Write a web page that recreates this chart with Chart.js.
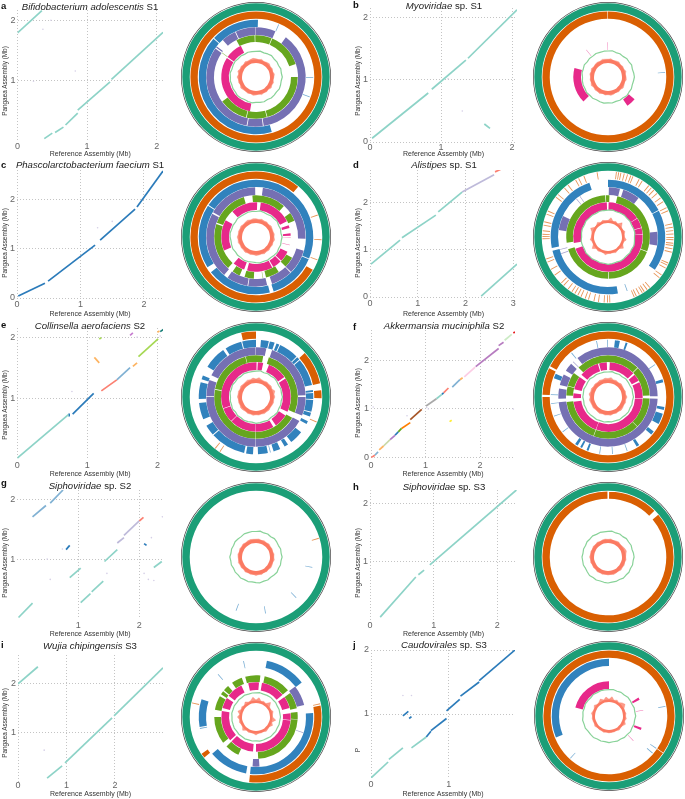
<!DOCTYPE html>
<html>
<head>
<meta charset="utf-8">
<title>Pangaea assemblies</title>
<script src="https://cdn.jsdelivr.net/npm/chart.js@4/dist/chart.umd.min.js"></script>
<style>
  html, body { margin: 0; padding: 0; background: #fff; }
  #page { position: relative; width: 685px; height: 799px; overflow: hidden; font-family: "Liberation Sans", Arial, sans-serif; }
  canvas { position: absolute; }
  .title { position: absolute; width: 170px; text-align: center; font-size: 9.6px; line-height: 12px; color: #222; white-space: nowrap; }
  .letter { position: absolute; font-size: 9.5px; line-height: 10px; font-weight: bold; color: #111; }
  .ytitle { position: absolute; width: 100px; text-align: center; font-size: 6.4px; line-height: 8px; color: #333; white-space: nowrap; transform: rotate(-90deg); }
</style>
</head>
<body>
<div id="page"></div>
<script>
// Contigs as [refStart, pangaeaStart, refEnd, pangaeaEnd] in Mb
const aMint = [[0, 1.79, 0.35, 2.16], [0.385, 0.04, 0.5, 0.13], [0.54, 0.14, 0.66, 0.23], [0.69, 0.265, 0.865, 0.46], [0.865, 0.51, 1.33, 0.98], [1.35, 1.02, 2.09, 1.8]];
const aDots = [[0.48, 2.0], [0.365, 1.85], [0.83, 1.16], [0.23, 0.99]];

const bMint = [[0.03, 0.06, 0.82, 0.79], [0.87, 0.85, 1.35, 1.32], [1.38, 1.35, 2.07, 2.13], [1.61, 0.29, 1.69, 0.22]];
const bDots = [[1.1, 1.02], [1.3, 0.5]];

const cBlue = [[0.02, 0.04, 0.44, 0.3], [0.49, 0.34, 1.23, 1.07], [1.31, 1.17, 1.86, 1.8], [1.89, 1.84, 2.3, 2.57]];
const cDots = [[1.27, 1.42], [1.5, 1.55]];

const dMint = [[0.02, 0.7, 0.63, 1.21], [0.67, 1.26, 1.38, 1.74], [1.43, 1.81, 1.93, 2.23], [2.33, 0.02, 3.08, 0.7]];
const dPurple = [[1.93, 2.23, 2.6, 2.6]];
const dSalmon = [[2.62, 2.66, 2.79, 2.74]];

const eMint = [[0, 0.02, 0.73, 0.73]];
const eBlue = [[0.74, 0.75, 0.74, 0.7], [0.79, 0.74, 1.09, 1.08]];
const eSalmon = [[1.2, 1.12, 1.42, 1.3]];
const eLightBlue = [[1.42, 1.3, 1.61, 1.5]];
const eOrange = [[1.65, 1.52, 1.71, 1.58], [1.1, 1.67, 1.17, 1.58], [2.0, 2.08, 2.03, 2.1]];
const eLime = [[1.73, 1.68, 2.01, 1.97], [1.17, 1.97, 1.2, 1.99]];
const eMagenta = [[1.61, 2.03, 1.65, 2.07]];
const eTeal = [[2.04, 2.09, 2.09, 2.13]];
const eDots = [[0.78, 1.11], [1.71, 2.0], [2.04, 2.02]];

const fContigs = [[0, 0, 0.07, 0.05], [0.07, 0.05, 0.13, 0.12], [0.15, 0.16, 0.23, 0.24], [0.23, 0.24, 0.35, 0.37], [0.35, 0.37, 0.44, 0.46], [0.44, 0.46, 0.5, 0.53], [0.5, 0.53, 0.56, 0.6], [0.56, 0.6, 0.72, 0.72], [0.72, 0.78, 0.93, 0.99], [1.01, 1.06, 1.2, 1.21], [1.2, 1.21, 1.3, 1.3], [1.3, 1.3, 1.33, 1.33], [1.33, 1.33, 1.42, 1.43], [1.49, 1.45, 1.63, 1.6], [1.63, 1.6, 1.68, 1.64], [1.71, 1.66, 1.91, 1.86], [1.92, 1.87, 2.34, 2.24], [2.34, 2.3, 2.43, 2.37], [2.45, 2.41, 2.58, 2.53], [2.61, 2.56, 2.64, 2.58], [1.44, 0.74, 1.48, 0.77]];
const fContigColors = ['#fb8072', '#80b1d3', '#fdb462', '#c9d9a8', '#b07cc6', '#2b7bba', '#66a61e', '#ff7f00', '#a65628', '#a9a9a9', '#8dd3c7', '#2b7bba', '#fb8072', '#80b1d3', '#fdb462', '#fccde5', '#b77cc0', '#b77cc0', '#ccebc5', '#e41a1c', '#ffed33'];
const fDots = [[2.61, 1.0], [1.02, 1.03], [0.04, 1.04], [0.66, 0.86], [1.05, 1.0]];

const gMint = [[0.02, 0.02, 0.25, 0.26], [0.86, 0.69, 1.04, 0.85], [1.04, 0.27, 1.2, 0.42], [1.22, 0.45, 1.41, 0.63], [1.43, 0.96, 1.64, 1.16], [2.24, 0.86, 2.37, 0.96]];
const gPurple = [[1.64, 1.27, 1.75, 1.36], [1.75, 1.4, 2.0, 1.64]];
const gSalmon = [[2.0, 1.64, 2.07, 1.7]];
const gBlue = [[0.8, 1.16, 0.86, 1.23], [2.08, 1.26, 2.12, 1.23]];
const gLightBlue = [[0.25, 1.71, 0.47, 1.9], [0.54, 1.94, 0.75, 2.16]];
const gDots = [[2.08, 0.76], [2.15, 0.66], [2.24, 0.64], [0.54, 0.66], [1.47, 0.76], [2.38, 1.71], [2.2, 1.36], [0.74, 1.17], [0.49, 1.0]];

const hMint = [[0.16, 0.05, 0.72, 0.74], [0.76, 0.78, 0.85, 0.86], [0.94, 0.95, 2.3, 2.24]];

const iMint = [[0.6, 0.08, 0.91, 0.33], [0.97, 0.39, 1.94, 1.31], [1.98, 1.35, 2.99, 2.33], [0, 2.0, 0.41, 2.35]];
const iDots = [[0.54, 0.65]];

const jMint = [[0, 0, 0.22, 0.25], [0.23, 0.29, 0.41, 0.47], [0.52, 0.47, 0.71, 0.64]];
const jBlue = [[0.71, 0.64, 0.77, 0.73], [0.77, 0.74, 0.97, 0.93], [0.97, 1.05, 1.14, 1.23], [1.15, 1.28, 1.39, 1.5], [1.39, 1.52, 1.85, 2.0], [0.41, 0.97, 0.48, 1.04], [0.49, 0.93, 0.52, 0.96]];
const jDots = [[0.41, 1.29], [0.52, 1.29]];

// Blast rings: [startDeg, endDeg] clockwise from the top, a bare number is a thin hit
const aOrange = [[0, 360]];
const aBlue = [[164, 312], [313, 362], 23, 90, 110];
const aPurple = [[37, 171], [172, 190], [191, 305], [306.5, 308], [318, 335], [336, 359.5], [360, 383]];
const aLime = [[332, 358], [359, 382], [383, 432], [450, 524], [525, 553], [554, 594], 305];
const aPink = [[190, 303], [305, 334]];

const bOrange = [[0, 359.5]];
const bPink = [[225, 285], [130, 146], 359, 321];
const bBlue = [85];

const cOrange = [[120, 400], 70, 92, 110];
const cBlue2 = [[0, 112], [113, 162], [166, 232], [238, 303], [304, 360]];
const cPurple = [[8, 92], [106, 135], [136, 161], [167, 189], [190, 215], [220, 298], [300, 359]];
const cLime = [[355, 402], [55, 67], [120, 135], [147, 166], [183, 196], [203, 214], [222, 288], [290, 343], 170];
const cPink = [[317, 362], [8, 63], [70, 75], [84, 88], 91, 103, [115, 133], [135, 150], [152, 195], [200, 220], [247, 299]];

const dOrangeTicks = [350, 7, 9, 11, 14, 17, 20, 22, 28, 31, 38, 41, 44, 48, 53, 57, 63, 66, 78, 81, 84, 87, 90, 92, 95, 97, 100, 103, 113, 115, 118, 125, 128, 140, 143, 146, 148, 151, 154, 156, 178, 180, 183, 188, 192, 197, 200, 204, 207, 210, 213, 217, 222, 225, 234, 240, 247, 250, 268, 270, 272, 275, 280, 283, 290, 293, 307, 310, 318, 322, 330, 333, 338];
const dBlue = [[0, 62], [62.6, 125], [170, 256], [259, 341], 160];
const dPurple2 = [[1, 14], [18, 38], [84, 100], [278, 295], 320, 325, 250, 255];
const dLime = [[13, 110], [111, 179], [180, 253], [262, 356], [357, 362]];
const dPink = [[1, 57], [57.6, 74], [75, 85], [86, 250], [260, 358]];

const eOrange2 = [[347, 360], [48, 78], [84, 91], 112, 213, 218];
const eBlue2 = [[5, 13], [14, 19], [21, 24], [25, 45], [46, 49], [50, 78], [83, 85], [86, 92], [93, 105], [106, 110], [115, 118], [128, 142], [146, 150], [155, 162], 165, [168, 178], [183, 190], [192, 228], [229, 240], [247, 264], [268, 285], [288, 292], [302, 325], [328, 345], [346, 360]];
const ePurple = [[0, 12], [19, 88], [90, 112], [119, 180], [180.5, 270], [271, 290], [296, 359.5]];
const eLime2 = [[0, 10], [18, 112], [120, 180], [180.6, 280], [281, 345], [345.6, 360]];
const ePink = [[0, 1], [3, 12], [22, 55], [58, 115], [122, 145], [150, 180], [180.6, 225], [226, 250], [251, 360]];

const fOrange = [[0, 270], [272, 296], [298, 360]];
const fBlue = [348, 359, [7, 12], [18, 20], 55, [72, 75], [100, 103], [107, 118], [127, 131], [147, 150], 160, 175, 188, [200, 202], [207, 209], [212, 215], 232, 250, 263, 272, [289, 294], 320];
const fPurple = [[322, 360], [0, 89], [92, 264], [268, 280], [284, 297], [302, 312], 315];
const fLime = [[0, 45], [46, 88], [92, 135], [135.6, 200], [200.6, 263], [272, 285], [285.6, 305], [315, 360]];
const fPink = [[345, 358], [3, 47], [50, 62], [65, 92], [93, 200], [200.6, 262], [268, 276], [283, 305], [310, 343]];

const gOrange = [73];
const gBlue2 = [100, 170, 200, 135];

const hOrange = [[1, 45], [50, 359.5]];

const iOrange = [[80, 186], [232, 236], 78, 282];
const iBlue = [[11, 53], [86, 186], [190, 230], [260, 288], 226, 318, 347, 258];
const iPurple = [[52, 76], [176, 184], 108];
const iLime = [[345, 366], [12, 50], [55, 78], [83, 93], [93.6, 177], [205, 225], [232, 270], [280, 300], [303, 308], [310, 318], [325, 340]];
const iPink = [[347, 365], [10, 50], [55, 75], [84, 95], [95.6, 180], [185, 225], [228, 280], [285, 303], [308, 335]];

const jOrange = [[0, 124], [124.6, 360]];
const jBlue2 = [[248, 360], 80, 124, 130, 222];
const jPink = [[284, 360], [58, 62], 80, [110, 114], 135];

// GC skew / coverage tracks, radius at evenly spaced angles starting from the top
const trackInner = [14, 13.9, 14, 14.1, 13.9, 14, 13.9, 14.1, 14, 13.9, 14, 14.1, 14, 13.9, 14, 13.9, 14.1, 14, 13.9, 14, 14.1, 13.9, 14, 14, 13.9, 14.1, 14, 13.9, 14, 14.1, 14, 13.9, 14, 13.9, 14.1, 14, 13.9, 14, 14.1, 14];
const coreHigh = [17.6, 17.5, 17.6, 17.5, 17.7, 17.6, 17.5, 17.6, 17.5, 17.6, 17.7, 17.5, 17.6, 17.5, 17.6, 17.5, 17.6, 17.7, 17.5, 17.6, 17.5, 17.6, 17.5, 17.7, 17.6, 17.5, 17.6, 17.5, 17.6, 17.7, 17.5, 17.6, 17.5, 17.6, 17.5, 17.7, 17.6, 17.5, 17.6, 17.5];
const coreLow = [16.5, 16.4, 16.5, 16.6, 16.4, 16.5, 16.4, 16.5, 16.6, 16.5, 16.4, 16.5, 16.4, 16.6, 16.5, 16.4, 16.5, 16.5, 16.4, 16.6, 16.5, 16.4, 16.5, 16.4, 16.5, 16.6, 16.4, 16.5, 16.4, 16.5, 16.6, 16.5, 16.4, 16.5, 16.4, 16.6, 16.5, 16.4, 16.5, 16.5];

const aGreenTrack = [25.6, 26.2, 25.4, 25.9, 26.4, 25.5, 25.8, 25.3, 26.1, 25.6, 26.3, 25.5, 25.8, 26.2, 25.4, 25.7, 25.9, 25.3, 26, 25.6, 25.4, 26.1, 25.7, 25.2, 25.9, 26.3, 25.5, 25.8, 25.4, 26, 25.6, 26.2, 25.3, 25.7, 26.1, 25.5, 25.9, 25.4, 26, 25.7];
const aRedTrack = [18.2, 17.6, 18.5, 17.4, 18.1, 18.8, 17.7, 18.3, 17.5, 18.6, 17.9, 17.3, 18.4, 17.8, 18.7, 17.4, 18.2, 17.7, 18.5, 17.2, 18, 18.6, 17.5, 18.3, 17.6, 17.9, 18.8, 17.4, 18.2, 17.7, 18.9, 17.5, 19.1, 17.8, 18.4, 17.5, 18.7, 17.9, 18.3, 18.9];
const bGreenTrack = [26, 26.6, 25.7, 26.1, 25.5, 26.3, 25.9, 26.5, 25.6, 26, 26.4, 25.8, 25.5, 26.2, 25.9, 26.5, 25.7, 26.1, 25.6, 26.3, 25.8, 26.4, 26, 25.5, 26.2, 25.8, 26.5, 25.7, 26.1, 25.9, 25.5, 26.3, 26, 26.6, 25.7, 26.2, 25.8, 26.4, 25.9, 26.1];
const bRedTrack = [17.8, 18.4, 17.4, 18, 18.6, 17.5, 18.2, 17.7, 18.8, 17.6, 18.1, 18.5, 17.3, 18, 18.7, 17.6, 18.3, 17.5, 18.1, 18.6, 17.7, 18.2, 17.4, 18.5, 17.9, 18.3, 17.5, 18.8, 17.7, 18.1, 17.4, 18.4, 17.8, 18.6, 17.5, 18, 18.3, 17.6, 18.5, 18];
const cGreenTrack = [25.5, 26.4, 25.7, 25.3, 26, 25.6, 26.3, 25.4, 25.8, 25.2, 26.1, 25.5, 25.9, 25.4, 26.2, 25.7, 25.3, 25.9, 25.5, 26.1, 25.6, 25.3, 25.8, 26.2, 25.5, 25.9, 25.4, 26, 25.6, 25.3, 25.9, 26.2, 25.5, 25.8, 25.4, 26.1, 25.7, 25.5, 26, 25.8];
const cRedTrack = [18.3, 17.8, 18.6, 18, 18.4, 17.7, 18.7, 18.1, 17.9, 18.5, 18, 18.8, 17.8, 18.3, 17.6, 18.5, 18, 18.7, 17.9, 18.2, 18.6, 17.8, 18.4, 18, 18.7, 17.9, 18.3, 17.7, 18.6, 18.1, 18.8, 17.9, 18.4, 18, 18.6, 17.8, 18.3, 18.7, 18, 18.5];
const dGreenTrack = [26.8, 27.4, 26.5, 26.9, 27.3, 26.6, 27, 26.4, 26.9, 27.2, 26.5, 26.8, 27.4, 26.6, 27, 26.4, 26.8, 27.1, 26.5, 26.9, 27.3, 26.6, 26.9, 26.4, 27.1, 26.7, 27.3, 26.5, 26.9, 27.2, 26.4, 26.8, 27, 26.5, 27.3, 26.7, 26.9, 26.5, 27.1, 26.8];
const dRedTrack = [16.5, 19.5, 16.4, 17.5, 16.3, 20, 16.6, 16.3, 17.8, 16.4, 16.5, 18.5, 16.3, 16.6, 19, 16.4, 16.3, 17.5, 16.5, 16.4, 16.6, 18, 16.3, 16.5, 17.2, 16.4, 19.5, 16.5, 16.3, 18, 16.6, 16.4, 17, 19.5, 16.5, 16.3, 18, 16.4, 17.5, 16.6];
const eGreenTrack = [25.8, 26.5, 25.5, 26.1, 25.6, 26.4, 25.9, 25.4, 26.2, 25.7, 26.5, 25.5, 26, 25.6, 26.3, 25.8, 25.4, 26.2, 25.6, 26, 26.4, 25.5, 25.9, 26.3, 25.6, 26.1, 25.4, 26.4, 25.7, 26, 25.5, 26.3, 25.8, 26.5, 25.6, 26.1, 25.5, 26.3, 25.9, 25.6];
const eRedTrack = [18, 19.6, 18.2, 17.8, 18.5, 18, 18.7, 17.7, 19.8, 18.2, 18.8, 17.9, 18.4, 18, 17.7, 18.5, 18.1, 18.6, 17.9, 18.3, 17.8, 18.6, 18, 18.4, 17.7, 18.3, 18.8, 17.9, 18.2, 17.7, 18.6, 18.1, 18.4, 17.8, 18.7, 18, 18.3, 18.9, 18.1, 19.2];
const fGreenTrack = [25, 25.7, 24.8, 25.2, 24.6, 25.4, 25, 24.7, 25.3, 24.9, 25.5, 24.7, 25.1, 24.6, 25.3, 25, 24.8, 25.4, 24.9, 25.1, 24.6, 25.3, 24.8, 25.2, 24.7, 25, 25.4, 24.8, 25.1, 24.6, 25.2, 24.9, 25.4, 24.7, 25.1, 25.6, 24.8, 25.3, 25, 25.2];
const fRedTrack = [18.5, 19.6, 18, 18.4, 17.7, 18.6, 18, 17.6, 18.3, 17.8, 19, 17.9, 18.4, 17.7, 18.2, 18.6, 17.8, 18.2, 17.6, 18.4, 17.9, 18.3, 17.7, 18.5, 18, 17.7, 18.4, 17.9, 18.2, 18.9, 17.8, 19.2, 18.1, 18.6, 17.9, 18.4, 18, 18.7, 18.2, 19];
const gGreenTrack = [25.5, 26.2, 25.3, 25.8, 25.1, 26, 25.6, 25.2, 25.9, 25.4, 26.1, 25.3, 25.7, 25.2, 26, 25.5, 25.1, 25.8, 25.4, 26.1, 25.6, 25.2, 25.8, 25.4, 26, 25.3, 25.7, 25.1, 25.9, 25.5, 26.2, 25.3, 25.7, 25.2, 25.9, 25.5, 25.2, 26, 25.6, 25.8];
const gRedTrack = [17.8, 18.2, 17.5, 18.1, 17.6, 18.4, 17.7, 18, 17.5, 18.3, 17.8, 18.5, 17.6, 18, 18.4, 17.6, 18.1, 17.5, 18.3, 17.8, 18.5, 17.6, 18.1, 17.7, 18.4, 17.5, 18.2, 17.8, 18.5, 17.6, 18, 18.3, 17.5, 18.2, 17.7, 18.4, 17.6, 18.1, 18.3, 17.9];
const hGreenTrack = [25.6, 26.1, 25.3, 25.8, 25.2, 26, 25.5, 25.9, 25.2, 25.7, 26.1, 25.4, 25.8, 25.2, 25.9, 25.5, 26.1, 25.3, 25.7, 25.4, 26, 25.6, 25.2, 25.8, 25.4, 26.1, 25.5, 25.2, 25.9, 25.6, 26, 25.3, 25.7, 25.2, 25.9, 25.5, 26.1, 25.4, 25.8, 25.5];
const hRedTrack = [17.6, 18.2, 17.4, 17.9, 18.4, 17.5, 18, 18.8, 19.3, 18.1, 17.6, 18.3, 17.5, 18.1, 17.7, 18.4, 17.5, 17.9, 18.3, 17.6, 18, 17.4, 18.2, 17.7, 18.3, 17.5, 18, 17.4, 18.2, 17.6, 18.4, 17.7, 18, 17.5, 18.2, 17.6, 18.3, 17.5, 18, 18.1];
const iGreenTrack = [24.2, 24.6, 24, 24.3, 24.5, 24.1, 24.4, 23.9, 24.3, 24.1, 24.5, 24, 24.3, 23.9, 24.4, 24.1, 24.5, 24, 24.2, 24.4, 23.9, 24.3, 24.1, 24.5, 24, 24.3, 23.9, 24.4, 24.1, 24.3, 24, 24.5, 24.1, 24.4, 23.9, 24.3, 24.1, 24.6, 24, 24.3];
const iRedTrack = [17, 19.5, 16.5, 17.5, 16.6, 20.5, 16.8, 16.4, 18, 16.7, 16.5, 20, 16.6, 18.5, 16.5, 16.8, 17.6, 16.5, 16.7, 16.4, 18, 16.6, 16.5, 17, 16.4, 18.8, 16.6, 16.5, 17.4, 16.7, 18.6, 16.5, 19, 16.6, 17.5, 16.4, 18.5, 16.7, 17.2, 20];
const jGreenTrack = [26.3, 26.8, 26, 26.5, 25.9, 26.6, 26.2, 25.8, 26.5, 26.1, 26.7, 25.9, 26.3, 25.8, 26.6, 26, 26.4, 25.9, 26.5, 26.1, 26.7, 26, 26.3, 25.8, 26.5, 26.1, 25.9, 26.6, 26.2, 26.7, 26, 26.4, 25.9, 26.5, 26.1, 25.8, 26.6, 26.2, 26.7, 26.3];
const jRedTrack = [16.7, 19.5, 16.4, 17.8, 16.5, 18.5, 19.8, 16.8, 16.4, 17.2, 16.5, 17.6, 16.4, 18.4, 16.6, 16.5, 17.4, 16.4, 16.7, 16.5, 16.9, 16.4, 17.2, 16.5, 16.6, 16.4, 17.5, 16.5, 16.7, 17, 16.4, 17.8, 16.6, 16.5, 18.2, 16.4, 17, 19, 16.8, 19.2];

// Palette
const MINT = '#8dd3c7', BLUE = '#2b7bba', LIGHTBLUE = '#80b1d3', PURPLE = '#bebada', SALMON = '#fb8072', ORANGE = '#fdb462', LIME = '#a6d854', MAGENTA = '#c77cd0', TEAL = '#1b7f79', DOT = '#d5cfe6';
const RING_COLORS = ['#1b9e77', '#d95f02', '#3182bd', '#7570b3', '#66a61e', '#e7298a'];
// outer line, gap, then ring/gap pairs, in pixels of radius
const RING_WIDTHS = [0.7, 0.6, 7.4, 0.7, 7.3, 1, 7.3, 0.3, 7.6, 0.3, 6.7, 0.3, 7.7];
const GREEN_TRACK = '#88d298', RED_TRACK = '#fb7a62', RED_FRINGE = 'rgba(251,122,98,0.75)';

const panels = [
  { letter: 'a', it: 'Bifidobacterium adolescentis', tail: ' S1', col: 0, row: 0, left: 17.5, right: 163, top: 10, bottom: 141, xMax: 2.09, yMax: 2.17, xTicks: [0, 1, 2], yTicks: [1, 2], tickPad: 0, titleTop: 1, letterTop: 1, yTitle: 'Pangaea Assembly (Mb)', yTitleY: 81,
    series: [[aMint, MINT]], dots: aDots, cx: 255.7, cy: 77, rings: [aOrange, aBlue, aPurple, aLime, aPink], green: aGreenTrack, red: aRedTrack, core: coreHigh },
  { letter: 'b', it: 'Myoviridae', tail: ' sp. S1', col: 1, row: 0, left: 370, right: 517, top: 8, bottom: 142, xMax: 2.07, yMax: 2.16, xTicks: [0, 1, 2], yTicks: [0, 1, 2], tickPad: 0, titleTop: 0, letterTop: 0, yTitle: 'Pangaea Assembly (Mb)', yTitleY: 81,
    series: [[bMint, MINT]], dots: bDots, cx: 607.5, cy: 77, rings: [bOrange, bBlue, [], [], bPink], green: bGreenTrack, red: bRedTrack, core: coreHigh },
  { letter: 'c', it: 'Phascolarctobacterium faecium', tail: ' S1', col: 0, row: 1, left: 17, right: 163, top: 170, bottom: 298, xMax: 2.3, yMax: 2.59, xTicks: [0, 1, 2], yTicks: [0, 1, 2], tickPad: 1, titleTop: -1, letterTop: 0, yTitle: 'Pangaea Assembly (Mb)', yTitleY: 243,
    series: [[cBlue, BLUE]], dots: cDots, cx: 255.7, cy: 237.3, rings: [cOrange, cBlue2, cPurple, cLime, cPink], green: cGreenTrack, red: cRedTrack, core: coreHigh },
  { letter: 'd', it: 'Alistipes', tail: ' sp. S1', col: 1, row: 1, left: 370, right: 517, top: 170, bottom: 297, xMax: 3.08, yMax: 2.7, xTicks: [0, 1, 2, 3], yTicks: [0, 1, 2], tickPad: 1, titleTop: -1, letterTop: 0, yTitle: 'Pangaea Assembly (Mb)', yTitleY: 243,
    series: [[dMint, MINT], [dPurple, PURPLE], [dSalmon, SALMON]], dots: [], cx: 608.3, cy: 237.3, rings: [dOrangeTicks, dBlue, dPurple2, dLime, dPink], green: dGreenTrack, red: dRedTrack, core: coreLow },
  { letter: 'e', it: 'Collinsella aerofaciens', tail: ' S2', col: 0, row: 2, left: 17.3, right: 163, top: 328, bottom: 459.3, xMax: 2.08, yMax: 2.15, xTicks: [0, 1, 2], yTicks: [1, 2], tickPad: 1, titleTop: 0, letterTop: 0, yTitle: 'Pangaea Assembly (Mb)', yTitleY: 405,
    series: [[eMint, MINT], [eBlue, BLUE], [eSalmon, SALMON], [eLightBlue, LIGHTBLUE], [eOrange, ORANGE], [eLime, LIME], [eMagenta, MAGENTA], [eTeal, TEAL]], dots: eDots, cx: 255.7, cy: 397.3, rings: [eOrange2, eBlue2, ePurple, eLime2, ePink], green: eGreenTrack, red: eRedTrack, core: coreHigh },
  { letter: 'f', it: 'Akkermansia muciniphila', tail: ' S2', col: 1, row: 2, left: 371, right: 515, top: 330, bottom: 457.7, xMax: 2.64, yMax: 2.62, xTicks: [0, 1, 2], yTicks: [0, 1, 2], tickPad: 2.5, titleTop: 0, letterTop: 2, yTitle: 'Pangaea Assembly (Mb)', yTitleY: 403,
    series: fContigs.map((c, i) => [[c], fContigColors[i]]), dots: fDots, cx: 608.3, cy: 397.3, rings: [fOrange, fBlue, fPurple, fLime, fPink], green: fGreenTrack, red: fRedTrack, core: coreHigh },
  { letter: 'g', it: 'Siphoviridae', tail: ' sp. S2', col: 0, row: 3, left: 17.3, right: 163, top: 490, bottom: 618.7, xMax: 2.39, yMax: 2.16, xTicks: [1, 2], yTicks: [1, 2], tickPad: 1, titleTop: 0, letterTop: -2, yTitle: 'Pangaea Assembly (Mb)', yTitleY: 563,
    series: [[gMint, MINT], [gPurple, PURPLE], [gSalmon, SALMON], [gBlue, BLUE], [gLightBlue, LIGHTBLUE]], dots: gDots, cx: 255.7, cy: 557, rings: [gOrange, gBlue2, [], [], []], green: gGreenTrack, red: gRedTrack, core: coreHigh },
  { letter: 'h', it: 'Siphoviridae', tail: ' sp. S3', col: 1, row: 3, left: 370, right: 517, top: 490, bottom: 620, xMax: 2.31, yMax: 2.24, xTicks: [0, 1, 2], yTicks: [1, 2], tickPad: 0, titleTop: 1, letterTop: 2, yTitle: 'Pangaea Assembly (Mb)', yTitleY: 563,
    series: [[hMint, MINT]], dots: [], cx: 608, cy: 557, rings: [hOrange, [], [], [], []], green: hGreenTrack, red: hRedTrack, core: coreHigh },
  { letter: 'i', it: 'Wujia chipingensis', tail: ' S3', col: 0, row: 4, left: 18, right: 163, top: 655, bottom: 782, xMax: 2.99, yMax: 2.59, xTicks: [0, 1, 2], yTicks: [1, 2], tickPad: -1.5, titleTop: 0, letterTop: 0, yTitle: 'Pangaea Assembly (Mb)', yTitleY: 723,
    series: [[iMint, MINT]], dots: iDots, cx: 255.7, cy: 717.3, rings: [iOrange, iBlue, iPurple, iLime, iPink], green: iGreenTrack, red: iRedTrack, core: coreLow },
  { letter: 'j', it: 'Caudovirales', tail: ' sp. S3', col: 1, row: 4, left: 371, right: 515, top: 650, bottom: 778, xMax: 1.85, yMax: 2.0, xTicks: [0, 1], yTicks: [1, 2], tickPad: 1.5, titleTop: -1, letterTop: 0, yTitle: 'P', yTitleY: 750,
    series: [[jMint, MINT], [jBlue, BLUE]], dots: jDots, cx: 609, cy: 716, rings: [jOrange, jBlue2, [], [], jPink], green: jGreenTrack, red: jRedTrack, core: coreLow }
];

Chart.defaults.font.family = '"Liberation Sans", Arial, sans-serif';
Chart.defaults.animation = false;

const page = document.getElementById('page');
const COL_LEFT = [0, 353];
const ROW_TOP = [0, 160, 320, 480, 640];
const PLOT_W = 170, PLOT_H = 160;

function addCanvas(left, top, w, h) {
    const c = document.createElement('canvas');
    c.width = w;
    c.height = h;
    c.style.left = left + 'px';
    c.style.top = top + 'px';
    c.style.width = w + 'px';
    c.style.height = h + 'px';
    page.appendChild(c);
    return c;
}

function addLabels(p) {
    const t = document.createElement('div');
    t.className = 'title';
    t.style.left = ([90, 444][p.col] - 85) + 'px';
    t.style.top = (ROW_TOP[p.row] + p.titleTop) + 'px';
    t.innerHTML = '<i>' + p.it + '</i>' + p.tail;
    page.appendChild(t);

    const l = document.createElement('div');
    l.className = 'letter';
    l.style.left = [1, 353][p.col] + 'px';
    l.style.top = (ROW_TOP[p.row] + p.letterTop) + 'px';
    l.textContent = p.letter;
    page.appendChild(l);

    // y axis title sits off-centre from the plot, so it is placed by hand
    const y = document.createElement('div');
    y.className = 'ytitle';
    y.style.left = ([5, 358][p.col] - 50) + 'px';
    y.style.top = (p.yTitleY - 4) + 'px';
    y.textContent = p.yTitle;
    page.appendChild(y);
}

// Dot plot of pangaea contigs against the reference
function drawDotPlot(p) {
    const cl = COL_LEFT[p.col], ct = ROW_TOP[p.row];
    const canvas = addCanvas(cl, ct, PLOT_W, PLOT_H);
    const datasets = [];
    p.series.forEach(([segs, color]) => {
        segs.forEach(s => {
            datasets.push({
                data: [{ x: s[0], y: s[1] }, { x: s[2], y: s[3] }],
                showLine: true, borderColor: color, borderWidth: 1.7, pointRadius: 0
            });
        });
    });
    if (p.dots.length) {
        datasets.push({
            data: p.dots.map(d => ({ x: d[0], y: d[1] })),
            showLine: false, pointRadius: 0.8, pointBackgroundColor: DOT, pointBorderWidth: 0
        });
    }
    const gridOpts = { color: '#c4c4c4', lineWidth: 1, drawTicks: false };
    const border = { display: false, dash: [1, 2] };
    new Chart(canvas, {
        type: 'scatter',
        data: { datasets },
        options: {
            responsive: false,
            layout: { padding: { top: p.top - ct, right: cl + PLOT_W - p.right, left: 0, bottom: 0 } },
            plugins: { legend: { display: false }, tooltip: { enabled: false }, title: { display: false } },
            scales: {
                x: {
                    type: 'linear', min: 0, max: p.xMax,
                    grid: gridOpts, border,
                    ticks: { color: '#666', font: { size: 9 }, padding: p.tickPad, maxRotation: 0, autoSkip: false },
                    title: { display: true, text: 'Reference Assembly (Mb)', color: '#333', font: { size: 7 }, padding: { top: 0, bottom: 2 } },
                    afterBuildTicks: s => { s.ticks = p.xTicks.map(v => ({ value: v })); },
                    afterFit: s => { s.height = ct + PLOT_H - p.bottom; }
                },
                y: {
                    type: 'linear', min: 0, max: p.yMax,
                    grid: gridOpts, border,
                    ticks: { color: '#666', font: { size: 9 }, padding: 2, autoSkip: false },
                    afterBuildTicks: s => { s.ticks = p.yTicks.map(v => ({ value: v })); },
                    afterFit: s => { s.width = p.left - cl; }
                }
            }
        }
    });
}

// Turn [start, end] arcs and bare tick angles into doughnut slices with transparent gaps
function ringDataset(arcs, color, weight) {
    const parts = [];
    arcs.forEach(a => {
        const thin = !Array.isArray(a);
        const s = thin ? a : a[0];
        const e = thin ? a + 0.8 : a[1];
        const c = thin ? color + 'aa' : color;
        if (s >= 360) {
            parts.push([s - 360, e - 360, c]);
        } else if (e > 360) {
            parts.push([s, 360, c], [0, e - 360, c]);
        } else {
            parts.push([s, e, c]);
        }
    });
    parts.sort((m, n) => m[0] - n[0]);
    const data = [], colors = [];
    let pos = 0;
    parts.forEach(([s, e, c]) => {
        if (s > pos) { data.push(s - pos); colors.push('rgba(0,0,0,0)'); pos = s; }
        if (e > pos) { data.push(e - pos); colors.push(c); pos = e; }
    });
    if (pos < 360) { data.push(360 - pos); colors.push('rgba(0,0,0,0)'); }
    return { data, backgroundColor: colors, borderWidth: 0, weight };
}

function drawCircle(p) {
    const size = 150;
    const left = p.cx - size / 2, top = p.cy - size / 2;
    const datasets = [ringDataset([[0, 360]], '#444444', RING_WIDTHS[0])];
    RING_COLORS.forEach((color, i) => {
        datasets.push(ringDataset([], color, RING_WIDTHS[2 * i + 1]));
        datasets.push(ringDataset(i === 0 ? [[0, 360]] : p.rings[i - 1], color, RING_WIDTHS[2 * i + 2]));
    });
    new Chart(addCanvas(left, top, size, size), {
        type: 'doughnut',
        data: { datasets },
        options: {
            responsive: false, cutout: '36%',
            plugins: { legend: { display: false }, tooltip: { enabled: false } }
        }
    });

    // inner tracks share the same centre, 1 unit of r scale is 1 px
    new Chart(addCanvas(left, top, size, size), {
        type: 'radar',
        data: {
            labels: p.green.map((_, i) => i),
            datasets: [
                { data: trackInner, backgroundColor: '#fff', borderWidth: 0, fill: 'origin', pointRadius: 0 },
                { data: p.core, backgroundColor: RED_TRACK, borderWidth: 0, fill: 'origin', pointRadius: 0 },
                { data: p.red, backgroundColor: RED_FRINGE, borderColor: RED_FRINGE, borderWidth: 0.5, borderJoinStyle: 'round', fill: 'origin', pointRadius: 0 },
                { data: p.green, borderColor: GREEN_TRACK, borderWidth: 1.2, borderJoinStyle: 'round', fill: false, pointRadius: 0 }
            ]
        },
        options: {
            responsive: false,
            plugins: { legend: { display: false }, tooltip: { enabled: false } },
            scales: { r: { display: false, min: 0, max: 75 } }
        }
    });
}

panels.forEach(p => {
    drawDotPlot(p);
    drawCircle(p);
    addLabels(p);
});
</script>
</body>
</html>
